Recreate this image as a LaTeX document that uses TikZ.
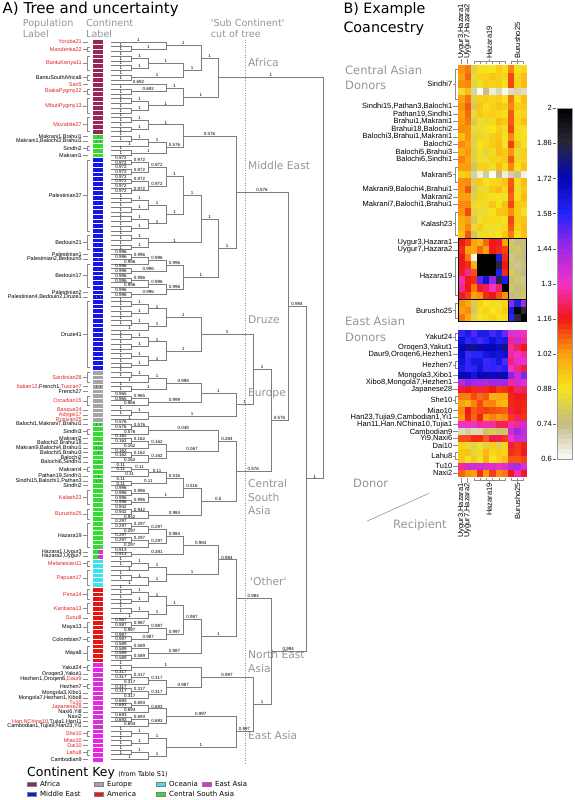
\documentclass[tikz,border=0pt]{standalone}
\usepackage{fontspec}
\setmainfont{DejaVu Sans}
\newfontfamily\labfont{Liberation Sans}

% continent colours
\definecolor{africa}{RGB}{150,38,88}
\definecolor{mideast}{RGB}{22,22,230}
\definecolor{europe}{RGB}{165,165,165}
\definecolor{oceania}{RGB}{60,225,235}
\definecolor{america}{RGB}{228,22,22}
\definecolor{eastasia}{RGB}{228,40,228}
\definecolor{csasia}{RGB}{50,222,50}
\definecolor{redlab}{RGB}{225,35,35}
\definecolor{cutgray}{RGB}{150,150,150}
\definecolor{treegray}{RGB}{125,125,125}
% heat scale, 0.6 to 2 in steps of 0.14
\definecolor{cm0}{RGB}{252,252,248}
\definecolor{cm1}{RGB}{196,186,132}
\definecolor{cm2}{RGB}{246,228,30}
\definecolor{cm3}{RGB}{252,160,12}
\definecolor{cm4}{RGB}{240,22,22}
\definecolor{cm5}{RGB}{242,50,200}
\definecolor{cm6}{RGB}{160,40,228}
\definecolor{cm7}{RGB}{36,36,250}
\definecolor{cm8}{RGB}{6,6,185}
\definecolor{cm9}{RGB}{40,40,56}
\definecolor{cm10}{RGB}{0,0,0}

\newcommand\rd[1]{\textcolor{redlab}{#1}}
\newcommand\leafx{111}
\newcommand\levelx{113.3}
\newcommand\treestep{17.5}

\newcommand\cmap[1]{%
  \pgfmathsetmacro\cmt{min(max((#1-0.6)/0.14,0),9.999)}%
  \pgfmathtruncatemacro\cmk{\cmt}%
  \pgfmathtruncatemacro\cmp{100*(\cmt-\cmk)}%
  \pgfmathtruncatemacro\cmn{\cmk+1}%
  \colorlet{cell}{cm\cmn!\cmp!cm\cmk}}

% tree helpers
\newcommand\setnode[4]{%
  \expandafter\xdef\csname tx@#1\endcsname{#2}%
  \expandafter\xdef\csname ty@#1\endcsname{#3}%
  \expandafter\xdef\csname th@#1\endcsname{#4}}
\newcommand\leaf[2]{%
  \edef\li{\the\numexpr#2\relax}%
  \pgfmathsetmacro\ly{42+4.72*\li}%
  \setnode{#1}{\leafx}{\ly}{0}%
  \coordinate (#1) at (\leafx,\ly);}
\newcommand\tjoin[6]{%
  \edef\ya{\csname ty@#3\endcsname}\edef\yb{\csname ty@#4\endcsname}%
  \edef\xa{\csname tx@#3\endcsname}\edef\xb{\csname tx@#4\endcsname}%
  \edef\ha{\csname th@#3\endcsname}\edef\hb{\csname th@#4\endcsname}%
  \edef\xn{#2}%
  \pgfmathsetmacro\yn{(\ya+\yb)/2}%
  \pgfmathsetmacro\hn{max(\ha,\hb)+1}%
  \setnode{#1}{\xn}{\yn}{\hn}%
  \coordinate (#1) at (\xn,\yn);
  \draw[treeline] (#3) -| (#1) |- (#4);
  \node[support] at ({(\xa+\xn)/2},\ya) {#5};
  \node[support] at ({(\xb+\xn)/2},\yb) {#6};}
\newcommand\autojoin[4]{%
  \edef\ha{\csname th@#2\endcsname}\edef\hb{\csname th@#3\endcsname}%
  \pgfmathsetmacro\ajx{\levelx+\treestep*(max(\ha,\hb)+1)}%
  \tjoin{#1}{\ajx}{#2}{#3}{#4}{#4}}
\newcommand\btree[4]{%
  \ifnum\numexpr#2\relax=\numexpr#3\relax
    \leaf{#1}{#2}%
  \else
    \expandafter\btreesplit\expandafter{\the\numexpr(#2+#3-1)/2\relax}{#1}{#2}{#3}{#4}%
  \fi}
\newcommand\btreesplit[5]{%
  \btree{#2a}{#3}{#1}{#5}%
  \btree{#2b}{#1+1}{#4}{#5}%
  \autojoin{#2}{#2a}{#2b}{#5}}

\newcommand\heatlabels[4]{% prefix, top, row height, rows
  \foreach \rowa/\rowb/\txt [count=\kk] in {#4}{
    \pgfmathsetmacro\ym{#2+#3*(\rowa+\rowb+1)/2}
    \node[rowlab] (#1\kk) at (452.5,\ym) {\txt};
    \draw[brk] (453.3,\ym) -- (455,\ym);
    \ifnum\rowa<\rowb
      \draw[brk] (457.6,{#2+#3*(\rowa+0.5)}) -- (455,{#2+#3*(\rowa+0.5)})
        -- (455,{#2+#3*(\rowb+0.5)}) -- (457.6,{#2+#3*(\rowb+0.5)});
    \else
      \draw[brk] (455,\ym) -- (457.6,\ym);
    \fi
  }}

\tikzset{
  treeline/.style={draw=treegray, line width=0.5pt},
  support/.style={font=\labfont\fontsize{4.5}{4.5}\selectfont, inner sep=0.4pt, anchor=south},
  poplab/.style={font=\labfont\fontsize{5.5}{5.5}\selectfont, anchor=east, inner sep=0pt},
  rowlab/.style={font=\labfont\fontsize{7.5}{7.5}\selectfont, anchor=east, inner sep=0pt},
  collab/.style={font=\labfont\fontsize{7.5}{7.5}\selectfont, rotate=90, inner sep=0pt},
  brk/.style={draw=black!45, line width=0.4pt},
  cutlab/.style={font=\fontsize{10.7}{13.5}\selectfont, text=cutgray, anchor=west, align=left, inner sep=0pt},
  headlab/.style={font=\fontsize{9.6}{11}\selectfont, text=cutgray, anchor=west, align=left, inner sep=0pt},
  donorlab/.style={font=\fontsize{11.5}{15.5}\selectfont, text=cutgray, anchor=west, align=left, inner sep=0pt},
  keylab/.style={font=\fontsize{7}{7}\selectfont, anchor=base west, inner sep=0pt},
}

\begin{document}
\begin{tikzpicture}[x=1pt,y=-1pt]
\useasboundingbox (0,0) rectangle (574,800);
\fill[white] (0,0) rectangle (574,800);

% headings
\node[anchor=west, font=\fontsize{15}{18}\selectfont, inner sep=0pt] (titleA) at (2.5,9) {A) Tree and uncertainty};
\node[headlab] (hpop) at (22.7,28.8) {Population\\Label};
\node[headlab] (hcon) at (86,28.8) {Continent\\Label};
\node[headlab] (hcut) at (210.7,28.8) {\textquotesingle Sub Continent\textquotesingle\\cut of tree};
\node[anchor=west, font=\fontsize{14.3}{18.3}\selectfont, align=left, inner sep=0pt] (titleB) at (343.3,19.2) {B) Example\\Coancestry};

% continent bar
\foreach \rowa/\rowb/\col in {0/19/africa,20/24/csasia,25/69/mideast,70/80/europe,81/109/csasia,110/115/oceania,116/131/america,132/152/eastasia}
  \fill[\col] (93.3,{39.64+4.72*\rowa}) rectangle (103.3,{39.64+4.72*(\rowb+1)});
\fill[eastasia] (99,{39.64+4.72*108}) rectangle (103.3,{39.64+4.72*110});
\foreach \i in {1,...,152}
  \draw[white, line width=0.5pt] (93.3,{39.64+4.72*\i}) -- (103.3,{39.64+4.72*\i});
\foreach \ri/\np in {20/2,21/3,46/2,54/3,73/3,81/3,85/2,86/3,87/2,89/2,92/2,93/3,108/2,109/2,134/2,135/3,138/2,139/3,142/2,144/3,145/4}{
  \pgfmathtruncatemacro\mm{\np-1}
  \foreach \j in {1,...,\mm}
    \draw[black!55, line width=0.35pt] ({93.3+10*\j/\np},{39.64+4.72*\ri+1}) -- ++(0,2.7);
}

% population labels
\foreach \rowa/\rowb/\txt [count=\kk] in {0/0/\rd{Yoruba21},1/2/\rd{Mandenka22},3/6/\rd{BantuKenya11},7/8/BantuSouthAfrica8,9/9/\rd{San5},10/11/\rd{BiakaPygmy22},12/15/\rd{MbutiPygmy13},16/19/\rd{Mozabite27},
  20/20/{Makrani1,Brahui1},21/21/{Makrani1,Balochi3,Brahui1},22/23/Sindhi2,24/24/Makrani1,
  25/40/Palestinian37,41/44/Bedouin21,45/45/Palestinian1,46/46/{Palestinian2,Bedouin5},47/52/Bedouin17,53/53/Palestinian2,54/54/{Palestinian4,Bedouin2,Druze1},55/69/Druze41,
  70/72/\rd{Sardinian28},73/73/{\rd{Italian12},French1,\rd{Tuscan7}},74/74/French27,75/77/\rd{Orcadian15},78/78/\rd{Basque24},79/79/\rd{Adygei17},80/80/\rd{Russian25},
  81/81/{Balochi1,Makrani7,Brahui1},82/83/Sindhi3,84/84/Makrani2,85/85/{Balochi2,Brahui18},86/86/{Makrani9,Balochi4,Brahui1},87/87/{Balochi5,Brahui3},88/88/Balochi2,89/89/{Balochi6,Sindhi1},90/91/Makrani4,92/92/{Pathan19,Sindhi1},93/93/{Sindhi15,Balochi1,Pathan3},94/94/Sindhi2,95/98/\rd{Kalash23},99/101/\rd{Burusho25},
  102/107/Hazara19,108/108/{Hazara1,Uygur3},109/109/{Hazara2,Uygur7},110/111/\rd{Melanesian11},112/115/\rd{Papuan17},
  116/118/\rd{Pima14},119/121/\rd{Karitiana13},122/122/\rd{Surui8},123/125/Maya13,126/127/Colombian7,128/131/Maya8,
  132/133/Yakut24,134/134/{Oroqen3,Yakut1},135/135/{Hezhen1,Oroqen6,\rd{Daur9}},136/137/Hezhen7,138/138/{Mongola3,Xibo1},139/139/{Mongola7,Hezhen1,Xibo8},140/140/\rd{Tu10},141/141/\rd{Japanese28},
  142/142/{Naxi6,Yi8},143/143/Naxi2,144/144/{\rd{Han,NChina10},Tujia1,Han11},145/145/{Cambodian1,Tujia9,Han23,Yi1},146/147/\rd{She10},148/148/\rd{Miao10},149/149/\rd{Dai10},150/151/\rd{Lahu8},152/152/Cambodian9}{
  \pgfmathsetmacro\ym{42+4.72*(\rowa+\rowb)/2}
  \node[poplab] (pl\kk) at (82,\ym) {\txt};
  \draw[brk] (83,\ym) -- (87.5,\ym);
  \ifnum\rowa<\rowb
    \draw[brk] (90,{42+4.72*\rowa}) -- (87.5,{42+4.72*\rowa}) -- (87.5,{42+4.72*\rowb}) -- (90,{42+4.72*\rowb});
  \fi
}

% cut line and sub continent names
\coordinate (cuttop) at (245,40);
\coordinate (cutbot) at (245,763);
\draw[cutgray, dotted, line width=0.5pt] (cuttop) -- (cutbot);
\node[cutlab] (rafr) at (248,63) {Africa};
\node[cutlab] (rme) at (248,166) {Middle East};
\node[cutlab] (rdru) at (248,320) {Druze};
\node[cutlab] (reur) at (248,394) {Europe};
\node[cutlab] (rcsa) at (248,497.5) {Central\\South\\Asia};
\node[cutlab] (roth) at (250,582) {\textquotesingle Other\textquotesingle};
\node[cutlab] (rnea) at (248,661.5) {North East\\Asia};
\node[cutlab] (reas) at (248,735.7) {East Asia};

% tree: Africa
\btree{yor}{0}{0}{1}
\btree{man}{1}{2}{1}
\tjoin{af1}{165.8}{yor}{man}{1}{1}
\btree{bke}{3}{6}{1}
\btree{bsa}{7}{8}{1}
\tjoin{af2}{183.3}{bke}{bsa}{1}{1}
\tjoin{af3}{200.8}{af1}{af2}{1}{1}
\btree{san}{9}{9}{1}
\btree{bia}{10}{11}{1}
\tjoin{af4}{165.8}{san}{bia}{0.692}{0.692}
\btree{mbu}{12}{15}{1}
\tjoin{af5}{183.3}{af4}{mbu}{1}{1}
\tjoin{afr}{218.3}{af3}{af5}{1}{1}
% Middle East
\btree{moz}{16}{19}{1}
\btree{mak}{20}{24}{1}
\tjoin{mg}{183.3}{moz}{mak}{1}{0.576}
\btree{pa1}{25}{32}{0.972}
\btree{pa2}{33}{40}{1}
\tjoin{pal}{183.3}{pa1}{pa2}{1}{1}
\btree{bed}{41}{44}{1}
\tjoin{pb1}{200.8}{pal}{bed}{1}{1}
\btree{pbm}{45}{54}{0.996}
\tjoin{pb2}{218.3}{pb1}{pbm}{1}{1}
\tjoin{mea}{235.8}{mg}{pb2}{0.576}{1}
% Druze and Europe
\btree{dr1}{55}{61}{1}
\btree{dr2}{62}{69}{1}
\tjoin{dru}{200.8}{dr1}{dr2}{1}{1}
\btree{eu1}{70}{74}{1}
\btree{eu2}{75}{77}{0.965}
\tjoin{eu3}{200.8}{eu1}{eu2}{0.998}{0.999}
\btree{eu4}{78}{80}{1}
\tjoin{eur}{235.8}{eu3}{eu4}{1}{1}
\tjoin{dze}{253.3}{dru}{eur}{1}{1}
% Central South Asia
\btree{cs1}{81}{83}{0.576}
\btree{cs2}{84}{89}{0.162}
\tjoin{cs3}{218.3}{cs1}{cs2}{0.048}{0.067}
\btree{cs4}{90}{94}{0.11}
\btree{cs5}{95}{98}{0.996}
\tjoin{cs7}{183.3}{cs4}{cs5}{0.516}{1}
\btree{cs6}{99}{101}{0.942}
\tjoin{cs8}{200.8}{cs7}{cs6}{0.516}{0.984}
\tjoin{csa}{235.8}{cs3}{cs8}{0.284}{0.5}
\tjoin{xx}{270.8}{dze}{csa}{1}{0.576}
\tjoin{ww}{288.3}{mea}{xx}{0.576}{0.576}
% 'Other'
\btree{haz}{102}{107}{0.297}
\btree{huy}{108}{109}{0.913}
\tjoin{hz}{183.3}{haz}{huy}{0.984}{0.281}
\btree{oce}{110}{115}{1}
\tjoin{ho}{218.3}{hz}{oce}{0.984}{1}
\btree{am1}{116}{122}{1}
\btree{am2}{123}{127}{0.987}
\tjoin{am4}{183.3}{am1}{am2}{1}{0.997}
\btree{am3}{128}{131}{0.589}
\tjoin{ame}{200.8}{am4}{am3}{0.987}{0.987}
\tjoin{oth}{235.8}{ho}{ame}{0.984}{1}
% Asia
\btree{ne1}{132}{133}{1}
\btree{ne2}{134}{139}{0.317}
\tjoin{nea}{200.8}{ne1}{ne2}{1}{0.987}
\btree{ea1}{140}{145}{0.693}
\btree{ea2}{146}{152}{1}
\tjoin{eas}{235.8}{ea1}{ea2}{0.997}{1}
\tjoin{asi}{253.3}{nea}{eas}{0.997}{0.997}
\tjoin{eee}{270.8}{oth}{asi}{0.984}{1}
\tjoin{naf}{305.8}{ww}{eee}{0.984}{0.994}
\tjoin{root}{323.3}{afr}{naf}{1}{1}

% key
\node[anchor=base west, font=\fontsize{12.5}{13}\selectfont, inner sep=0pt] (keyt) at (27,776.5) {Continent Key};
\node[anchor=base west, font=\fontsize{6.5}{7}\selectfont, inner sep=0pt] (keys) at ([xshift=3pt]keyt.base east) {(from Table S1)};
\foreach \x/\y/\col/\txt [count=\kk] in {27/783.7/africa/Africa,94/783.7/europe/Europe,156/783.7/oceania/Oceania,202/783.7/eastasia/East Asia,27/794.3/mideast/Middle East,94/794.3/america/America,156/794.3/csasia/Central South Asia}{
  \fill[\col, draw=black!50, line width=0.3pt] (\x,\y-2) rectangle ++(9,4);
  \node[keylab] (key\kk) at (\x+13,\y+2.5) {\txt};
}

% B) heat map, Central Asian donors
\pgfmathsetseed{11}
\foreach \ri in {0,...,22}{
  \foreach \bv/\wv [count=\ci from 0] in {1.00/0.88,1.06/0.95,0.80/0.68,0.90/0.64,0.88/0.70,0.90/0.62,0.92/0.72,0.92/0.64,1.08/0.66,0.90/0.70,0.92/0.64}{
    \pgfmathsetmacro\hv{((\ri==3)||(\ri==14) ? \wv : \bv)+0.05*rand}
    \cmap{\hv}
    \fill[cell] ({458.3+6.22*\ci},{65+7.55*\ri}) rectangle ++(6.32,7.65);
  }}
\foreach \ri/\vals in {
  23/{1.16,1.12,1.02,0.98,1.08,1.16,1.18,1.02,0.78,0.74,0.76},
  24/{1.14,1.02,1.00,1.08,1.02,1.16,1.14,1.12,0.76,0.78,0.74},
  25/{1.16,1.06,0.62,2.00,2.00,2.00,1.62,1.14,0.72,0.76,0.74},
  26/{1.16,1.14,0.98,2.00,2.00,2.00,1.86,1.16,0.78,0.72,0.76},
  27/{1.18,1.26,1.10,2.00,2.00,2.00,1.60,1.14,0.80,0.76,0.74},
  28/{1.28,1.16,1.14,1.52,1.66,1.46,1.84,1.62,0.76,0.78,0.72},
  29/{1.26,1.16,1.06,1.18,1.20,1.30,1.22,2.00,0.78,0.74,0.76},
  30/{1.18,1.12,1.02,1.04,1.14,1.16,1.10,1.04,0.74,0.76,0.78},
  31/{1.04,1.00,0.80,0.92,0.88,0.90,0.86,0.92,1.46,1.60,1.44},
  32/{1.02,1.04,0.78,0.90,0.92,0.88,0.90,0.94,1.62,2.00,1.86},
  33/{1.06,1.00,0.82,0.88,0.90,0.92,0.88,0.90,1.58,1.86,2.00}}{
  \foreach \hv [count=\ci from 0] in \vals {
    \cmap{\hv}
    \fill[cell] ({458.3+6.22*\ci},{65+7.55*\ri}) rectangle ++(6.32,7.65);
  }}
% East Asian donors
\foreach \ri/\lb/\rb in {0/1.55/1.32,1/1.6/1.3,2/1.75/1.22,3/1.62/1.28,4/1.6/1.28,5/1.62/1.26,6/1.7/1.42,7/1.46/1.32,8/1.16/1.18,9/1.05/1.14,10/1.04/1.14,11/1.1/1.16,12/1.08/1.16,13/1.24/1.3,14/0.74/1.4,15/1.15/1.33,16/0.88/1.14,17/0.9/1.14,18/0.92/1.16,19/1.33/1.4,20/1.08/1.24}{
  \foreach \ci in {0,...,10}{
    \pgfmathsetmacro\hv{(\ci<8 ? \lb : \rb)+0.07*rand}
    \cmap{\hv}
    \fill[cell] ({458.3+6.22*\ci},{330+6.99*\ri}) rectangle ++(6.32,7.09);
  }}
\draw[black, line width=0.8pt] (458.3,{65+7.55*23}) rectangle (526.7,321.7);
\draw[black, line width=0.8pt] (508.1,{65+7.55*23}) -- (508.1,321.7);
\draw[black, line width=0.8pt] (458.3,{65+7.55*31}) -- (526.7,{65+7.55*31});

% row labels
\heatlabels{ru}{65}{7.55}{0/4/Sindhi7,5/5/{Sindhi15,Pathan3,Balochi1},6/6/{Pathan19,Sindhi1},7/7/{Brahui1,Makrani1},8/8/{Brahui18,Balochi2},9/9/{Balochi3,Brahui1,Makrani1},10/10/Balochi2,11/11/{Balochi5,Brahui3},12/12/{Balochi6,Sindhi1},13/15/Makrani5,16/16/{Makrani9,Balochi4,Brahui1},17/17/Makrani2,18/18/{Makrani7,Balochi1,Brahui1},19/22/Kalash23,23/23/{Uygur3,Hazara1},24/24/{Uygur7,Hazara2},25/30/Hazara19,31/33/Burusho25}
\heatlabels{rl}{330}{6.99}{0/1/Yakut24,2/2/{Oroqen3,Yakut1},3/3/{Daur9,Oroqen6,Hezhen1},4/5/Hezhen7,6/6/{Mongola3,Xibo1},7/7/{Xibo8,Mongola7,Hezhen1},8/8/Japanese28,9/10/She10,11/11/Miao10,12/12/{Han23,Tujia9,Cambodian1,Yi1},13/13/{Han11,Han.NChina10,Tujia1},14/14/Cambodian9,15/15/{Yi9,Naxi6},16/16/Dai10,17/18/Lahu8,19/19/Tu10,20/20/Naxi2}

% column labels
\foreach \x/\txt [count=\kk] in {461.4/{Uygur3,Hazara1},467.6/{Uygur7,Hazara2},489.4/Hazara19,517.4/Burusho25}{
  \node[collab, anchor=west] (ct\kk) at (\x,59) {\txt};
  \node[collab, anchor=east] (cb\kk) at (\x,483) {\txt};
}
\foreach \ca/\cb in {0/0,1/1,2/7,8/10}{
  \draw[brk] ({458.3+6.22*(\ca+0.5)},61.5) -- ({458.3+6.22*(\cb+0.5)},61.5);
  \draw[brk] ({458.3+6.22*(\ca+0.5)},480.5) -- ({458.3+6.22*(\cb+0.5)},480.5);
  \draw[brk] ({458.3+3.11*(\ca+\cb+1)},61.5) -- ++(0,-2);
  \draw[brk] ({458.3+3.11*(\ca+\cb+1)},480.5) -- ++(0,2);
  \foreach \ci in {\ca,...,\cb}{
    \draw[brk] ({458.3+6.22*(\ci+0.5)},61.5) -- ++(0,3);
    \draw[brk] ({458.3+6.22*(\ci+0.5)},480.5) -- ++(0,-3);
  }
}

% donor / recipient captions
\node[donorlab] (dca) at (345,77.9) {Central Asian\\Donors};
\node[donorlab] (dea) at (345,329.2) {East Asian\\Donors};
\node[donorlab] (ddon) at (353,483.3) {Donor};
\node[donorlab] (drec) at (393,525) {Recipient};
\draw[cutgray, line width=0.6pt] (367.3,521) -- (429,493.3);

% colour scale
\foreach \i in {0,...,69}{
  \pgfmathsetmacro\hv{0.6+1.4*(\i+0.5)/70}
  \cmap{\hv}
  \fill[cell] (557,{459.3-5.0143*\i}) rectangle (571.7,{459.3-5.0143*(\i+1)-0.2});
}
\draw[black!40, line width=0.4pt] (557,108.3) rectangle (571.7,459.3);
\foreach \tv [count=\kk] in {2,1.86,1.72,1.58,1.44,1.3,1.16,1.02,0.88,0.74,0.6}{
  \pgfmathsetmacro\ym{108.3+(2-\tv)/0.14*35.1}
  \draw[black!60] (552.5,\ym) -- (556,\ym);
  \node[anchor=east, font=\labfont\fontsize{7.5}{7.5}\selectfont, inner sep=0pt] (tk\kk) at (552,\ym) {\tv};
}
\end{tikzpicture}
\end{document}
